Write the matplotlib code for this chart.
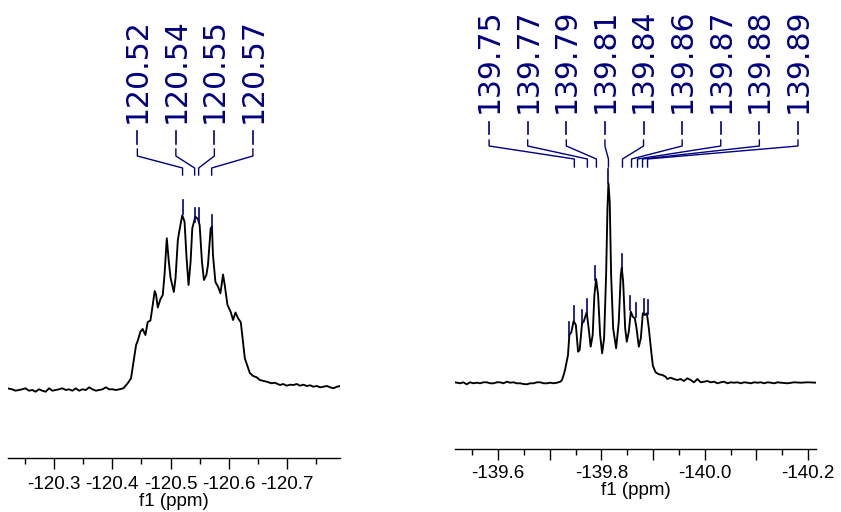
import matplotlib
matplotlib.use("Agg")
import matplotlib.pyplot as plt
import numpy as np
from matplotlib.ticker import MultipleLocator, FormatStrFormatter, FuncFormatter

# 19F NMR traces, chemical shift (ppm) and intensity (a.u.)
left_ppm = [-120.2195, -120.2281, -120.2340, -120.2397, -120.2453, -120.2512, -120.2569, -120.2626,
            -120.2684, -120.2741, -120.2798, -120.2857, -120.2914, -120.2971, -120.3029, -120.3086,
            -120.3143, -120.3202, -120.3259, -120.3316, -120.3374, -120.3431, -120.3488, -120.3547,
            -120.3603, -120.3660, -120.3719, -120.3776, -120.3833, -120.3891, -120.3948, -120.4005,
            -120.4064, -120.4121, -120.4190, -120.4264, -120.4322, -120.4409, -120.4436, -120.4483,
            -120.4522, -120.4569, -120.4609, -120.4655, -120.4678, -120.4729, -120.4753, -120.4781,
            -120.4828, -120.4867, -120.4897, -120.4936, -120.4971, -120.5000, -120.5057, -120.5086,
            -120.5126, -120.5160, -120.5202, -120.5241, -120.5276, -120.5310, -120.5345, -120.5374,
            -120.5426, -120.5471, -120.5500, -120.5540, -120.5574, -120.5616, -120.5643, -120.5690,
            -120.5712, -120.5729, -120.5771, -120.5816, -120.5857, -120.5902, -120.5931, -120.5978,
            -120.6034, -120.6074, -120.6116, -120.6160, -120.6207, -120.6276, -120.6362, -120.6419,
            -120.6478, -120.6534, -120.6650, -120.6736, -120.6793, -120.6879, -120.6936, -120.6995,
            -120.7052, -120.7109, -120.7167, -120.7224, -120.7281, -120.7340, -120.7397, -120.7453,
            -120.7512, -120.7569, -120.7626, -120.7685, -120.7741, -120.7798, -120.7857, -120.7914]
left_int = [1.2, 0.2, -1.2, -0.5, 0.2, 1.2, -1.2, -0.5,
            -2.2, 0.2, -1.2, -2.2, 1.2, -1.2, -0.5, 0.2,
            1.2, -0.5, 0.2, -1.2, 1.2, -1.2, 0.2, -0.5,
            2.2, 0.2, -1.2, -0.5, 0.2, 2.2, 0.2, 0.2,
            -0.5, 0.2, 1.2, 6.2, 11.2, 44.5, 48.5, 57.8,
            60.5, 54.5, 67.5, 69.0, 77.8, 98.5, 94.5, 82.0,
            90.5, 94.5, 114.5, 151.2, 127.8, 112.0, 97.5, 111.2,
            149.5, 161.2, 174.2, 167.8, 131.2, 104.5, 127.8, 161.2,
            172.8, 170.5, 164.5, 127.8, 109.5, 114.5, 124.5, 161.2,
            162.8, 134.5, 107.5, 102.8, 96.2, 115.0, 104.5, 84.5,
            77.5, 69.5, 77.0, 71.2, 67.2, 31.2, 16.5, 13.5,
            12.2, 9.5, 7.8, 6.2, 6.8, 4.5, 5.5, 3.8,
            4.8, 4.5, 5.5, 3.8, 4.8, 3.5, 4.2, 2.8,
            3.5, 2.2, 2.8, 3.5, 2.2, 1.2, 2.8, 3.5]

right_ppm = [-139.5165, -139.5262, -139.5326, -139.5392, -139.5456, -139.5520, -139.5586, -139.5650,
             -139.5715, -139.5781, -139.5845, -139.5909, -139.5975, -139.6039, -139.6103, -139.6169,
             -139.6233, -139.6297, -139.6363, -139.6427, -139.6491, -139.6557, -139.6621, -139.6685,
             -139.6751, -139.6816, -139.6880, -139.6946, -139.7010, -139.7074, -139.7140, -139.7204,
             -139.7237, -139.7268, -139.7295, -139.7353, -139.7379, -139.7417, -139.7462, -139.7505,
             -139.7548, -139.7579, -139.7625, -139.7656, -139.7715, -139.7753, -139.7792, -139.7831,
             -139.7864, -139.7897, -139.7936, -139.7975, -139.8014, -139.8052, -139.8091, -139.8117,
             -139.8136, -139.8161, -139.8188, -139.8227, -139.8285, -139.8336, -139.8375, -139.8394,
             -139.8421, -139.8460, -139.8491, -139.8530, -139.8569, -139.8608, -139.8647, -139.8680,
             -139.8724, -139.8763, -139.8802, -139.8841, -139.8880, -139.8918, -139.8965, -139.8996,
             -139.9049, -139.9113, -139.9179, -139.9243, -139.9276, -139.9340, -139.9404, -139.9470,
             -139.9534, -139.9598, -139.9664, -139.9728, -139.9792, -139.9858, -139.9922, -139.9986,
             -140.0052, -140.0117, -140.0181, -140.0247, -140.0311, -140.0375, -140.0441, -140.0505,
             -140.0569, -140.0635, -140.0699, -140.0763, -140.0829, -140.0893, -140.0957, -140.1023,
             -140.1087, -140.1151, -140.1217, -140.1282, -140.1346, -140.1412, -140.1476, -140.1606,
             -140.1734, -140.1864, -140.1994, -140.2169]
right_int = [0.7, -0.3, 0.7, -1.3, 0.7, -0.3, 0.3, -0.3,
             0.7, 0.7, -0.3, -0.3, 0.7, 0.7, -0.3, 1.3,
             0.3, 0.7, -0.3, -0.3, -1.0, -1.3, -0.3, -0.3,
             0.7, 0.7, -0.3, -0.3, 0.3, -0.3, 0.3, 1.3,
             3.0, 8.0, 13.0, 28.0, 48.0, 50.7, 62.0, 58.0,
             31.3, 33.0, 59.7, 61.3, 70.7, 54.7, 36.3, 48.0,
             88.0, 104.0, 88.0, 48.0, 29.7, 44.7, 108.0, 174.7,
             199.7, 181.3, 108.0, 54.7, 34.7, 61.3, 108.0, 115.3,
             101.3, 54.7, 41.3, 51.3, 71.3, 66.3, 64.7, 54.7,
             36.3, 44.7, 69.7, 68.0, 69.7, 54.7, 31.3, 17.3,
             10.7, 8.7, 8.0, 6.3, 4.0, 5.3, 4.0, 3.0,
             4.0, 2.0, 4.7, 3.0, 0.7, 4.0, 0.7, 1.3,
             2.0, 0.7, 1.3, -0.3, 0.7, 1.3, -0.3, 0.7,
             0.3, 0.7, -0.3, 0.7, 0.3, -0.3, 0.7, 0.3,
             0.7, -0.3, 0.7, 0.3, -0.3, 0.7, 0.3, -0.3,
             0.7, 0.3, 0.7, 0.3]

# picked peaks
left_peak_ppm = [-120.5207, -120.5414, -120.5483, -120.5707]
left_peak_labels = ["120.52", "120.54", "120.55", "120.57"]
left_mark_ppm = [-120.5207, -120.5414, -120.5483, -120.5707]
left_mark_int = [175.5, 167.5, 167.5, 161.0]

right_peak_ppm = [-139.7476, -139.7728, -139.7903, -139.8136, -139.8408,
                  -139.8583, -139.8699, -139.8796, -139.8893]
right_peak_labels = ["139.75", "139.77", "139.79", "139.81", "139.84",
                     "139.86", "139.87", "139.88", "139.89"]
right_mark_ppm = [-139.7379, -139.7476, -139.7631, -139.7728, -139.7883, -139.8136,
                  -139.8408, -139.8563, -139.8660, -139.8816, -139.8893]
right_mark_int = [47, 63, 59, 70, 103, 200, 115, 73, 66, 70, 69]

right_tick_labels = [-139.6, -139.8, -140.0, -140.2]

NAVY = "#000080"
W, H = 841, 512

fig = plt.figure(figsize=(W / 100, H / 100), dpi=100)


def panel(rect_px, xlim, base_px, ppm, inten, peaks, labels, lab_ends,
          mk_ppm, mk_int, geo, labelled, tickpad, xlab_y):
    x0, x1, yspine = rect_px
    ax = fig.add_axes([x0 / W, (H - yspine) / H, (x1 - x0) / W, yspine / H])
    # 1 intensity unit == 1 pixel
    ax.set_ylim(-base_px, yspine - base_px)
    ax.set_xlim(*xlim)
    ax.plot(ppm, inten, color="black", lw=1.35, solid_joinstyle="round")

    for p, h in zip(mk_ppm, mk_int):
        ax.plot([p, p], [h, h + 14], color=NAVY, lw=1.2)

    lx = np.linspace(lab_ends[0], lab_ends[1], len(peaks))
    t_bot, d_hi, d_lo, c_top, c_bend, c_low, c_end = geo
    for x, p, s in zip(lx, peaks, labels):
        ax.text(x, t_bot, s, rotation=90, ha="center", va="bottom", color=NAVY,
                fontsize=21.5, family="DejaVu Sans")
        ax.plot([x, x], [d_lo, d_hi], color=NAVY, lw=1.2)
        ax.plot([x, x, p, p], [c_top, c_bend, c_low, c_end], color=NAVY, lw=1.0)

    for s in ("top", "left", "right"):
        ax.spines[s].set_visible(False)
    ax.spines["bottom"].set_linewidth(1.0)
    ax.set_yticks([])
    ax.xaxis.set_major_locator(MultipleLocator(0.1))
    ax.xaxis.set_minor_locator(MultipleLocator(0.05))
    if labelled is None:
        ax.xaxis.set_major_formatter(FormatStrFormatter("%.1f"))
    else:
        ax.xaxis.set_major_formatter(FuncFormatter(
            lambda v, pos: ("%.1f" % v) if any(abs(v - t) < 1e-6 for t in labelled) else ""))
    ax.tick_params(axis="x", which="major", direction="out", length=8, width=1.0,
                   labelsize=13.5, pad=tickpad)
    ax.tick_params(axis="x", which="minor", direction="out", length=4.4, width=1.0)
    for lab in ax.get_xticklabels():
        lab.set_family("Liberation Sans")
    ax.set_xlabel("f1 (ppm)", fontsize=13.5, family="Liberation Sans")
    ax.xaxis.set_label_coords(0.5, xlab_y)
    ax.patch.set_alpha(0)
    return ax


panel((8, 340, 458.3), (-120.221, -120.791), 68.8, left_ppm, left_int,
      left_peak_ppm, left_peak_labels, (-120.4431, -120.6414),
      left_mark_ppm, left_mark_int,
      (266.5, 258.5, 245.5, 240.5, 233.5, 221.5, 214.5),
      None, 5.0, -0.076)

panel((455, 816, 449.3), (-139.5165, -140.2155), 66.3, right_ppm, right_int,
      right_peak_ppm, right_peak_labels, (-139.5825, -140.1806),
      right_mark_ppm, right_mark_int,
      (270, 261, 249, 243, 237, 224, 216),
      right_tick_labels, 3.5, -0.072)

fig.savefig("out.png", dpi=100)
